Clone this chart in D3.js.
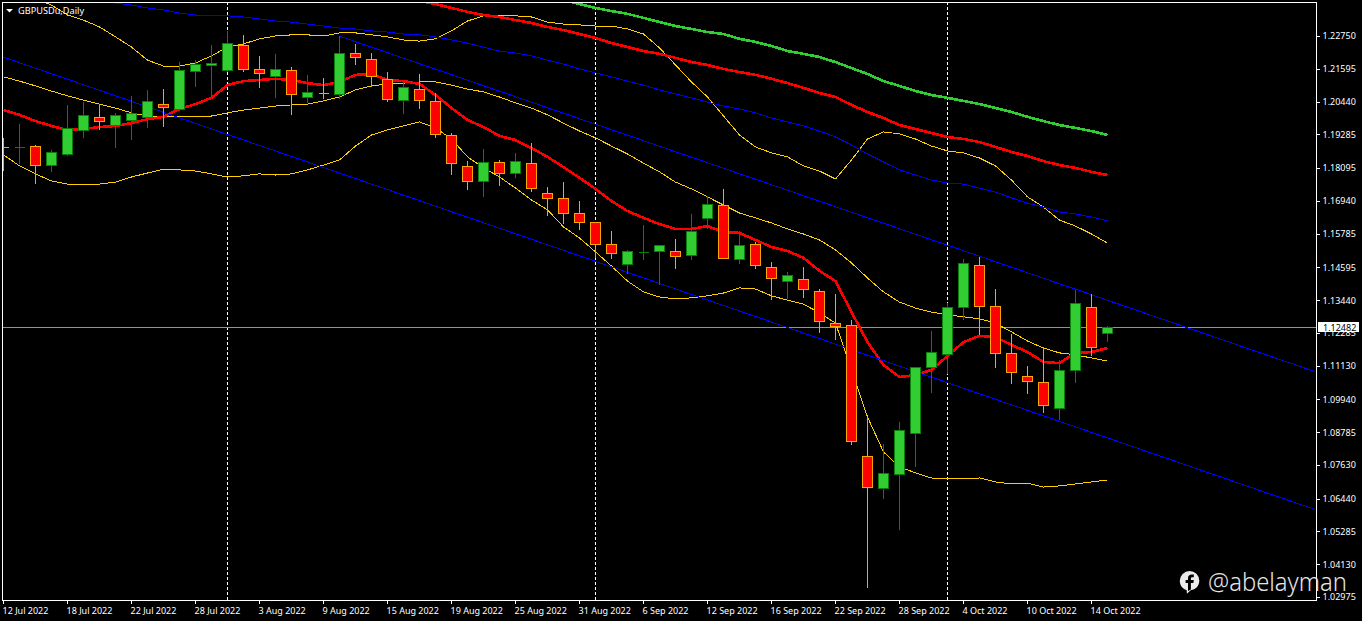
<!DOCTYPE html>
<html>
<head>
<meta charset="utf-8">
<script src="https://cdn.jsdelivr.net/npm/d3@7"></script>
<style>
html,body{margin:0;padding:0;background:#000;overflow:hidden}
svg{display:block}
text{font-family:"Noto Sans","Liberation Sans",Arial,sans-serif}
</style>
</head>
<body>
<div id="chart"></div>
<script>
const title = "GBPUSDu,Daily";
const lastPrice = 1.12482;
const priceTicks = [1.22750,1.21595,1.20440,1.19285,1.18095,1.16940,1.15785,1.14595,1.13440,1.12285,1.11130,1.09940,1.08785,1.07630,1.06440,1.05285,1.04130,1.02975];
const dateTickIndex = [0,4,8,12,16,20,24,28,32,36,40,44,48,52,56,60,64,68];
const dateTickLabels = ["12 Jul 2022","18 Jul 2022","22 Jul 2022","28 Jul 2022","3 Aug 2022","9 Aug 2022","15 Aug 2022","19 Aug 2022","25 Aug 2022","31 Aug 2022","6 Sep 2022","12 Sep 2022","16 Sep 2022","22 Sep 2022","28 Sep 2022","4 Oct 2022","10 Oct 2022","14 Oct 2022"];
const periodSeparators = [14,37,59];

const open = [1.1885,1.1884,1.1887,1.1820,1.1859,1.1944,1.1990,1.1961,1.1979,1.1990,
1.2035,1.2018,1.2152,1.2173,1.2155,1.2243,1.2159,1.2134,1.2155,1.2060,
1.2075,1.2071,1.2215,1.2194,1.2124,1.2049,1.2088,1.2046,1.1926,1.1817,
1.1764,1.1831,1.1792,1.1827,1.1722,1.1704,1.1651,1.1619,1.1542,1.1471,
1.1514,1.1517,1.1517,1.1503,1.1634,1.1679,1.1489,1.1542,1.1461,1.1411,
1.1419,1.1376,1.1263,1.1256,1.0795,1.0682,1.0731,1.0876,1.1108,1.1154,
1.1320,1.1468,1.1323,1.1158,1.1077,1.1055,1.0964,1.1098,1.1320,1.1228];
const high = [1.1916,1.1965,1.1891,1.1873,1.2032,1.2042,1.2035,1.2004,1.2064,1.2085,
1.2088,1.2183,1.2190,1.2243,1.2293,1.2279,1.2205,1.2212,1.2166,1.2138,
1.2127,1.2275,1.2247,1.2215,1.2148,1.2116,1.2141,1.2074,1.1933,1.1834,
1.1877,1.1838,1.1863,1.1898,1.1743,1.1760,1.1693,1.1619,1.1588,1.1521,
1.1609,1.1538,1.1560,1.1648,1.1711,1.1736,1.1588,1.1549,1.1478,1.1443,
1.1461,1.1383,1.1366,1.1274,1.0932,1.0837,1.0914,1.1108,1.1235,1.1334,
1.1489,1.1496,1.1383,1.1225,1.1112,1.1179,1.1133,1.1380,1.1366,1.1253];
const low = [1.1803,1.1827,1.1757,1.1799,1.1856,1.1919,1.1947,1.1884,1.1912,1.1954,
1.1958,1.2014,1.2099,1.2060,1.2152,1.2152,1.2095,1.2060,1.2000,1.2042,
1.2057,1.2057,1.2176,1.2099,1.2046,1.2004,1.2021,1.1919,1.1789,1.1736,
1.1711,1.1750,1.1778,1.1729,1.1644,1.1616,1.1595,1.1496,1.1493,1.1440,
1.1489,1.1401,1.1457,1.1489,1.1598,1.1493,1.1475,1.1457,1.1348,1.1352,
1.1355,1.1232,1.1207,1.0837,1.0333,1.0647,1.0537,1.0759,1.1020,1.1087,
1.1278,1.1225,1.1108,1.1052,1.1017,1.0950,1.0925,1.1055,1.1151,1.1200];
const close = [1.1884,1.1885,1.1820,1.1866,1.1951,1.1997,1.1975,1.1997,1.2004,1.2046,
1.2025,1.2155,1.2176,1.2180,1.2250,1.2159,1.2145,1.2159,1.2071,1.2078,
1.2074,1.2215,1.2201,1.2134,1.2053,1.2095,1.2049,1.1930,1.1827,1.1764,
1.1831,1.1792,1.1834,1.1739,1.1704,1.1651,1.1619,1.1542,1.1510,1.1517,
1.1515,1.1538,1.1500,1.1588,1.1683,1.1493,1.1538,1.1468,1.1422,1.1433,
1.1383,1.1270,1.1253,1.0847,1.0685,1.0735,1.0886,1.1108,1.1161,1.1320,
1.1475,1.1323,1.1158,1.1091,1.1059,1.0974,1.1098,1.1334,1.1179,1.12482];

const maRed20 = [1.2014,1.1997,1.1975,1.1958,1.1944,1.1947,1.1954,1.1958,1.1968,1.1982,
1.1990,1.2018,1.2035,1.2057,1.2102,1.2116,1.2120,1.2124,1.2120,1.2109,
1.2102,1.2113,1.2138,1.2141,1.2120,1.2116,1.2106,1.2067,1.2021,1.1979,
1.1954,1.1923,1.1908,1.1880,1.1849,1.1813,1.1775,1.1736,1.1693,1.1658,
1.1634,1.1612,1.1595,1.1595,1.1605,1.1584,1.1581,1.1556,1.1531,1.1517,
1.1493,1.1447,1.1411,1.1302,1.1196,1.1115,1.1073,1.1080,1.1098,1.1147,
1.1196,1.1218,1.1214,1.1186,1.1161,1.1126,1.1122,1.1158,1.1161,1.1175];
const bandWide = [1.2455,1.2430,1.2406,1.2384,1.2349,1.2331,1.2307,1.2272,1.2236,1.2190,
1.2169,1.2169,1.2180,1.2205,1.2236,1.2247,1.2265,1.2275,1.2279,1.2279,
1.2275,1.2286,1.2286,1.2279,1.2272,1.2261,1.2257,1.2265,1.2293,1.2328,
1.2346,1.2346,1.2346,1.2342,1.2324,1.2317,1.2314,1.2310,1.2310,1.2300,
1.2282,1.2233,1.2173,1.2113,1.2060,1.1993,1.1926,1.1884,1.1863,1.1849,
1.1817,1.1799,1.1771,1.1838,1.1912,1.1937,1.1930,1.1912,1.1887,1.1870,
1.1863,1.1845,1.1817,1.1767,1.1708,1.1672,1.1626,1.1605,1.1577,1.1545];
const bandMiddle = [1.2131,1.2116,1.2099,1.2081,1.2064,1.2049,1.2035,1.2021,1.2004,1.1993,
1.1990,1.1990,1.1990,1.1993,1.2004,1.2014,1.2021,1.2028,1.2032,1.2035,
1.2046,1.2060,1.2085,1.2099,1.2106,1.2109,1.2113,1.2113,1.2102,1.2088,
1.2078,1.2060,1.2039,1.2021,1.1997,1.1968,1.1940,1.1916,1.1887,1.1859,
1.1827,1.1796,1.1760,1.1736,1.1708,1.1679,1.1651,1.1634,1.1616,1.1595,
1.1577,1.1556,1.1521,1.1475,1.1422,1.1373,1.1337,1.1316,1.1302,1.1292,
1.1285,1.1278,1.1263,1.1232,1.1200,1.1175,1.1158,1.1151,1.1140,1.1129];
const bandLower = [1.1856,1.1817,1.1789,1.1764,1.1753,1.1753,1.1753,1.1760,1.1778,1.1792,
1.1806,1.1803,1.1799,1.1789,1.1778,1.1782,1.1789,1.1785,1.1789,1.1803,
1.1820,1.1838,1.1887,1.1926,1.1944,1.1958,1.1972,1.1951,1.1912,1.1849,
1.1810,1.1778,1.1739,1.1697,1.1662,1.1602,1.1563,1.1514,1.1464,1.1411,
1.1373,1.1355,1.1348,1.1352,1.1359,1.1369,1.1387,1.1383,1.1359,1.1344,
1.1330,1.1299,1.1263,1.1098,1.0932,1.0809,1.0756,1.0735,1.0717,1.0714,
1.0714,1.0717,1.0703,1.0696,1.0699,1.0685,1.0689,1.0696,1.0703,1.0710];

const maBlueStart = 6;
const maBlue = [1.2398,1.2391,1.2384,1.2374,1.2367,1.2356,1.2349,1.2346,1.2346,1.2342,1.2335,
1.2328,1.2324,1.2317,1.2310,1.2303,1.2300,1.2293,1.2289,1.2282,1.2279,
1.2272,1.2261,1.2250,1.2236,1.2222,1.2215,1.2205,1.2190,1.2176,1.2159,
1.2145,1.2131,1.2116,1.2102,1.2085,1.2071,1.2057,1.2042,1.2028,1.2018,
1.2004,1.1986,1.1972,1.1958,1.1940,1.1919,1.1891,1.1859,1.1831,1.1803,
1.1785,1.1767,1.1757,1.1753,1.1739,1.1725,1.1704,1.1686,1.1672,1.1655,
1.1648,1.1637,1.1623];
const maRedSlowStart = 26;
const maRedSlow = [1.2398,1.2388,1.2374,1.2360,1.2349,1.2342,1.2331,1.2321,1.2307,1.2296,
1.2282,1.2268,1.2250,1.2236,1.2222,1.2212,1.2198,1.2183,1.2173,1.2159,
1.2148,1.2138,1.2124,1.2109,1.2092,1.2074,1.2060,1.2032,1.2007,1.1986,
1.1961,1.1947,1.1933,1.1919,1.1912,1.1901,1.1884,1.1866,1.1852,1.1834,
1.1820,1.1810,1.1796,1.1785];
const maGreenStart = 35;
const maGreen = [1.2402,1.2388,1.2374,1.2363,1.2353,1.2339,1.2324,1.2310,1.2300,1.2289,
1.2282,1.2265,1.2254,1.2240,1.2222,1.2212,1.2201,1.2183,1.2162,1.2141,
1.2116,1.2099,1.2081,1.2067,1.2057,1.2046,1.2035,1.2021,1.2007,1.1990,
1.1975,1.1961,1.1951,1.1940,1.1926];

const channelLowerIdx = [0,82];
const channelLowerPrice = [1.2201,1.0606];
const channelUpperIdx = [21,82];
const channelUpperPrice = [1.2275,1.1092];

const W = 1362, H = 621;
const L = 2, T = 2, R = 1316, B = 600;
const x = d3.scaleLinear().domain([0,69]).range([3,1107]);
const y = d3.scaleLinear().domain([1.22750,1.02975]).range([36,597]);
const px = v => Math.round(x(v)) + 0.5;
const py = v => Math.round(y(v)) + 0.5;

const svg = d3.select("#chart").append("svg").attr("width",W).attr("height",H);
svg.append("rect").attr("width",W).attr("height",H).attr("fill","#000");
svg.append("clipPath").attr("id","plot").append("rect")
  .attr("x",L).attr("y",T).attr("width",R-L).attr("height",B-T);

const plot = svg.append("g").attr("clip-path","url(#plot)").attr("shape-rendering","crispEdges");

// period separators
plot.selectAll("line.sep").data(periodSeparators).join("line").attr("class","sep")
  .attr("x1",d=>px(d)).attr("x2",d=>px(d)).attr("y1",T).attr("y2",B)
  .attr("stroke","#fff").attr("stroke-width",1).attr("stroke-dasharray","3,2");

// last price line
plot.append("line").attr("x1",L).attr("x2",R)
  .attr("y1",py(lastPrice)).attr("y2",py(lastPrice))
  .attr("stroke","#8a94a0").attr("stroke-width",1);

const lineGen = start => d3.line().x((d,i)=>x(start+i)+0.5).y(d=>y(d));
function drawLine(values,start,color,width){
  plot.append("path").datum(values).attr("d",lineGen(start))
    .attr("fill","none").attr("stroke",color).attr("stroke-width",width)
    .attr("stroke-linejoin","round");
}
drawLine(bandWide,0,"#ffd000",1);
drawLine(bandMiddle,0,"#ffd000",1);
drawLine(bandLower,0,"#ffd000",1);
drawLine(maBlue,maBlueStart,"#0000ff",1);
drawLine(maRedSlow,maRedSlowStart,"#ff0000",2.6);
drawLine(maGreen,maGreenStart,"#32cd32",2.6);
drawLine(maRed20,0,"#ff0000",2.6);

function drawTrend(idx,price){
  plot.append("line")
    .attr("x1",x(idx[0])).attr("y1",y(price[0]))
    .attr("x2",x(idx[1])).attr("y2",y(price[1]))
    .attr("stroke","#0000ff").attr("stroke-width",1);
}
drawTrend(channelLowerIdx,channelLowerPrice);
drawTrend(channelUpperIdx,channelUpperPrice);

// candles
const candles = d3.range(open.length).map(i=>({i,o:open[i],h:high[i],l:low[i],c:close[i]}));
const edge = d => d.c > d.o ? "#0a800a" : "#ffa500";
const cg = plot.selectAll("g.candle").data(candles).join("g").attr("class","candle");
cg.append("line")
  .attr("x1",d=>px(d.i)).attr("x2",d=>px(d.i))
  .attr("y1",d=>py(d.h)-0.5).attr("y2",d=>py(d.l)+0.5)
  .attr("stroke",edge).attr("stroke-width",1);
cg.append("path")
  .attr("d",d=>{
    const t=py(Math.max(d.o,d.c)), b=py(Math.min(d.o,d.c)), c=px(d.i);
    return `M${c-5},${t}H${c+5}V${b}H${c-5}Z`;
  })
  .attr("fill",d=>d.c>d.o?"#32cd32":"#ff0000")
  .attr("stroke",edge).attr("stroke-width",1);

// frame
svg.append("rect").attr("x",L+0.5).attr("y",T+0.5).attr("width",R-L).attr("height",B-T)
  .attr("fill","none").attr("stroke","#fff").attr("stroke-width",1).attr("shape-rendering","crispEdges");

// axes
const yAxis = d3.axisRight(y).tickValues(priceTicks).tickFormat(d3.format(".5f")).tickSize(3).tickPadding(3);
const gy = svg.append("g").attr("transform",`translate(${R+0.5},0)`).call(yAxis);
const xAxis = d3.axisBottom(x).tickValues(dateTickIndex).tickFormat((d,i)=>dateTickLabels[i]).tickSize(3).tickPadding(4);
const gx = svg.append("g").attr("transform",`translate(0,${B+0.5})`).call(xAxis);
[gy,gx].forEach(g=>{
  g.select(".domain").remove();
  g.selectAll("line").attr("stroke","#fff").attr("shape-rendering","crispEdges");
  g.selectAll("text").attr("fill","#fff").attr("font-size","9px").attr("font-family",'"Noto Sans","Liberation Sans",Arial,sans-serif');
});
gx.selectAll("text").attr("text-anchor","start").attr("dx","-1").attr("y",7);

// last price tag
svg.append("rect").attr("x",1318).attr("y",Math.round(y(lastPrice))-5).attr("width",41).attr("height",10).attr("fill","#fff");
svg.append("text").attr("x",1323).attr("y",Math.round(y(lastPrice))+3.5)
  .attr("font-size","9px").attr("fill","#000").text(d3.format(".5f")(lastPrice));

// title
svg.append("path").attr("d","M6,9 L13,9 L9.5,12.5 Z").attr("fill","#fff");
svg.append("text").attr("x",18).attr("y",14).attr("font-size","9.2px").attr("fill","#fff").text(title);

// watermark
svg.append("path").attr("fill","#ececec")
  .attr("d","M1189.5,571 a9.8,9.8 0 0 1 9.8,9.8 c0,5.2 -3.6,8.8 -8.6,9.4 l-3.8,3.6 l-0.2,-3.6 c-4.3,-1.2 -6.9,-5 -6.9,-9.4 a9.8,9.8 0 0 1 9.7,-9.8 Z");
svg.append("path").attr("fill","#000")
  .attr("d","M1188,591 v-8 h-2.4 v-3 h2.4 v-1.8 c0,-2.6 1.5,-3.8 3.7,-3.8 l2.1,0.1 v2.8 h-1.5 c-1.1,0 -1.4,0.6 -1.4,1.4 v1.3 h2.9 l-0.4,3 h-2.5 v6.4 Z");
svg.append("text").attr("x",1208).attr("y",591)
  .attr("font-family","Lato,sans-serif").attr("font-weight",300)
  .attr("font-size","26px").attr("fill","#e4e4e4")
  .attr("textLength",139).attr("lengthAdjust","spacingAndGlyphs").text("@abelayman");
</script>
</body>
</html>
